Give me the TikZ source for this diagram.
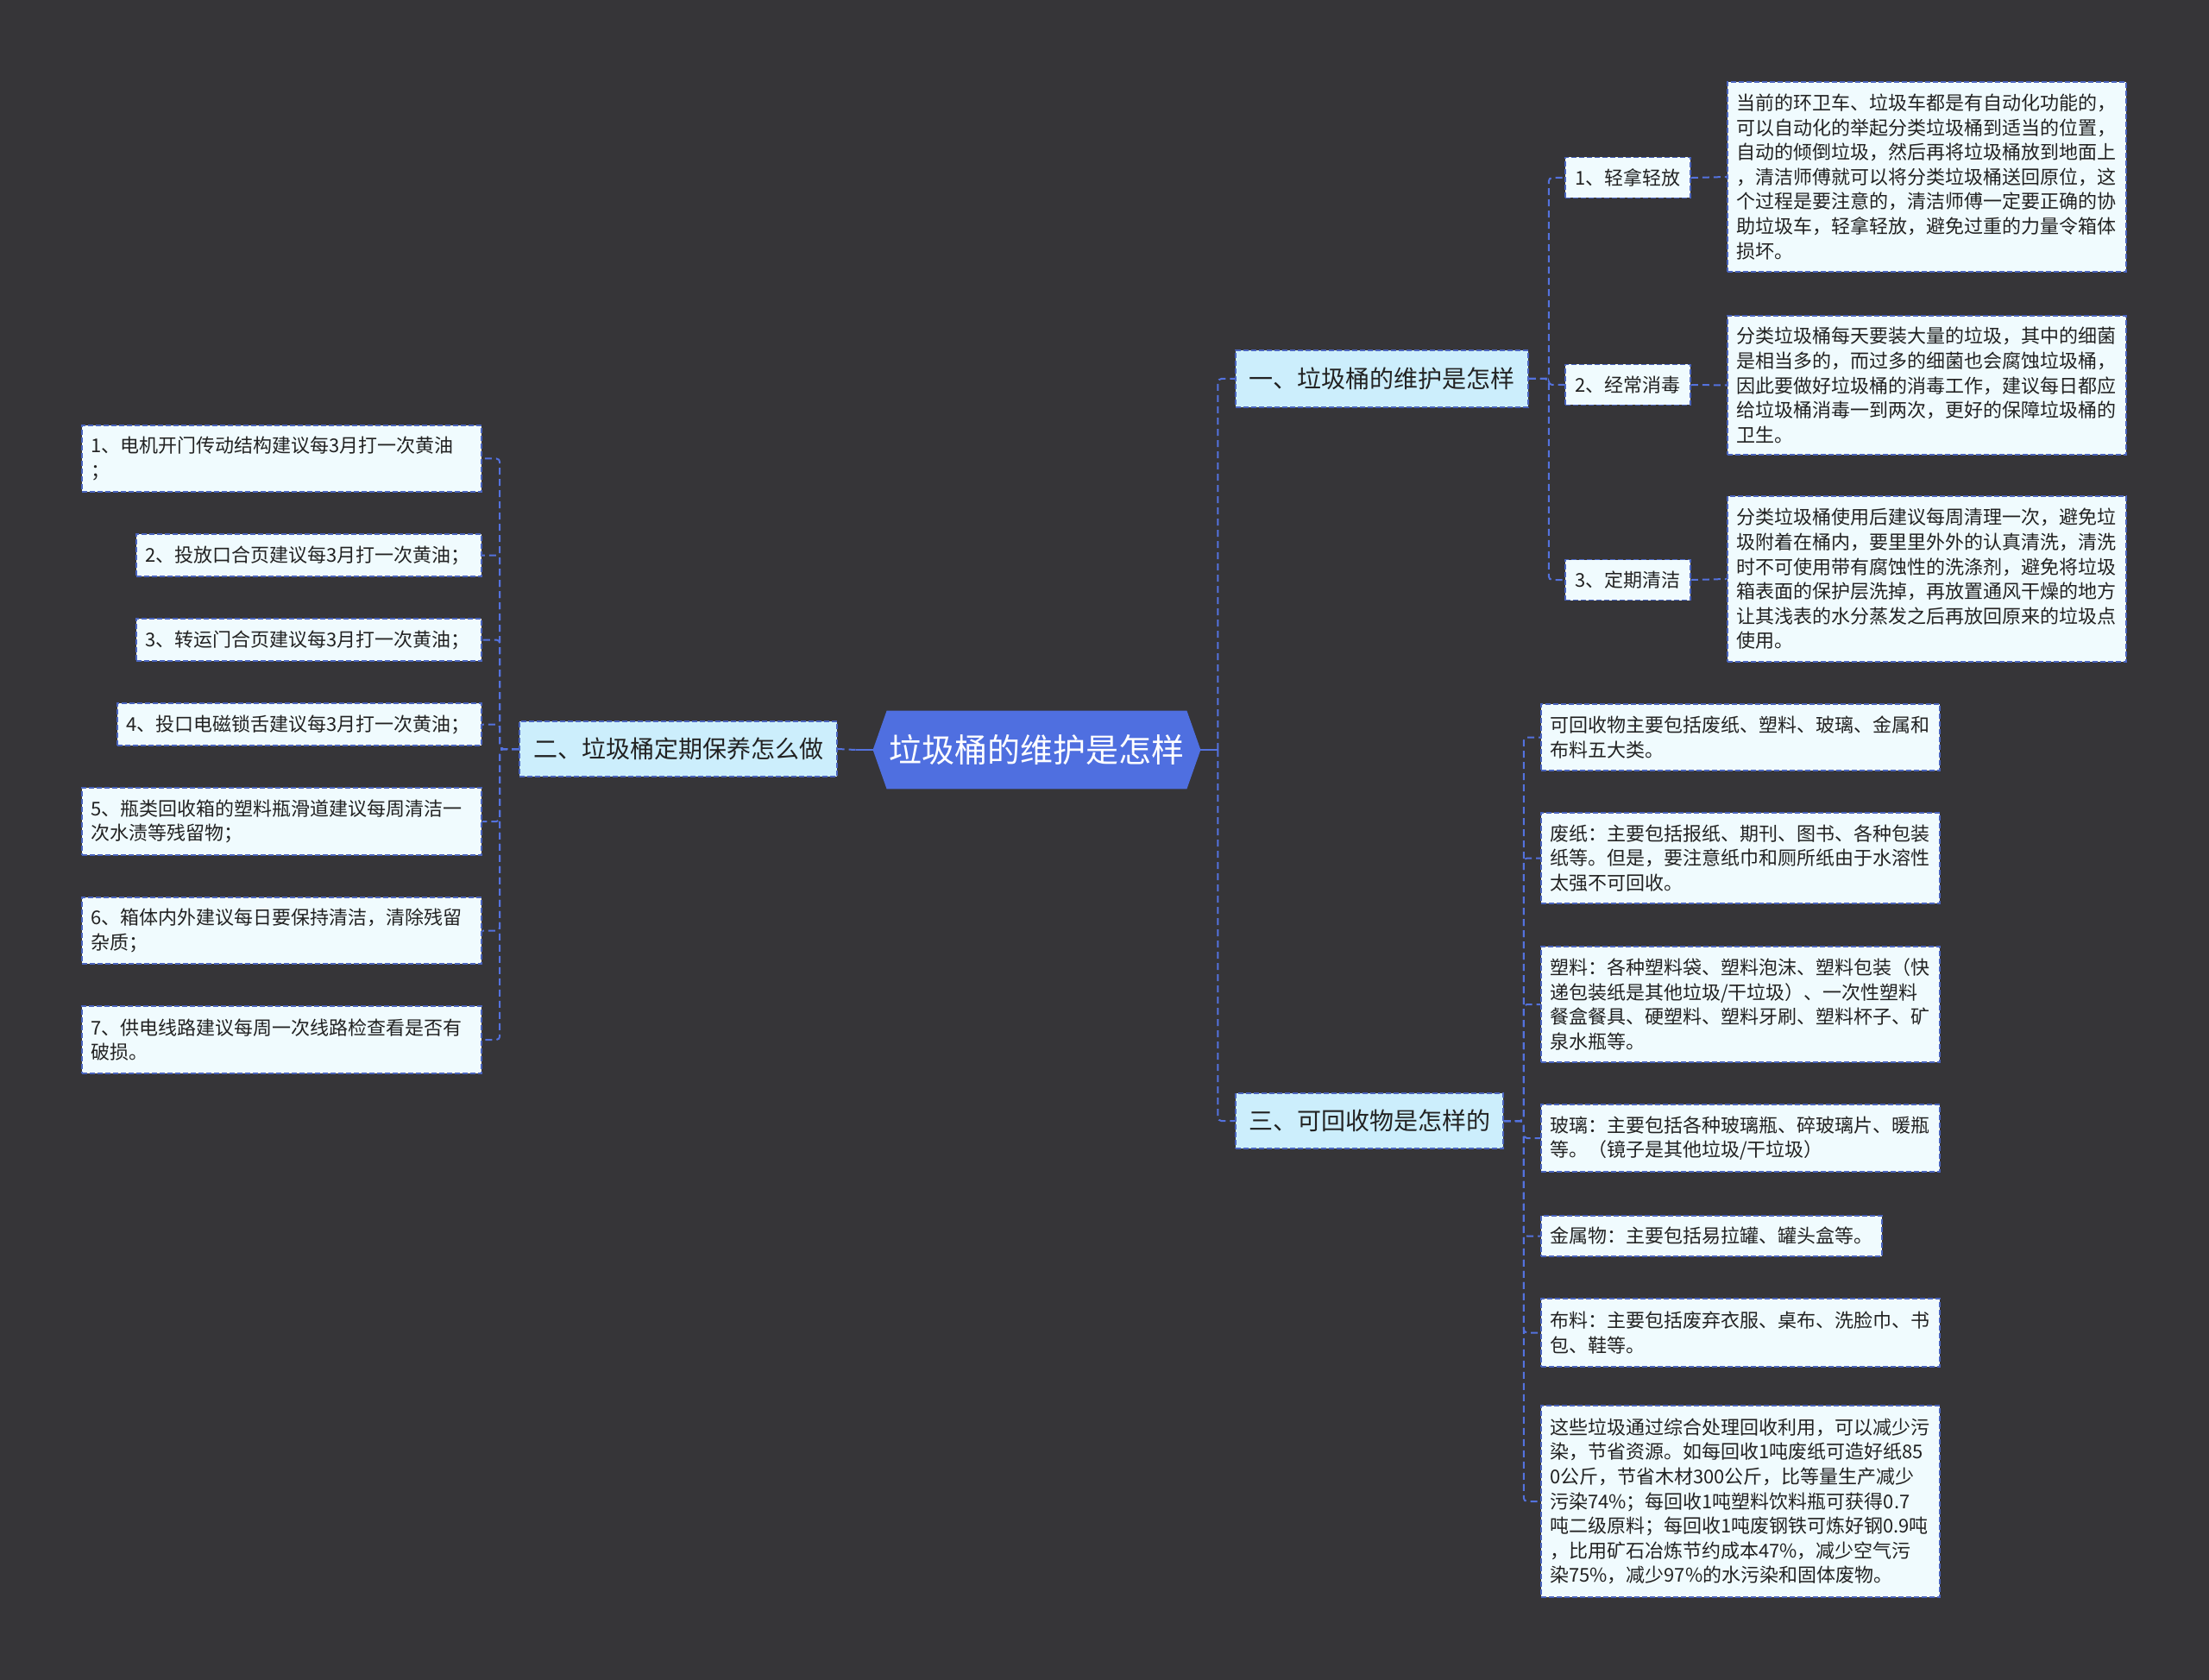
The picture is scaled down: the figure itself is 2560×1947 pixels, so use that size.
\documentclass[tikz,border=0pt]{standalone}
\usepackage{fontspec}
\setmainfont{Noto Sans CJK SC}
\usetikzlibrary{backgrounds}
\definecolor{bgc}{RGB}{54,53,56}
\definecolor{cfill}{RGB}{79,111,224}
\definecolor{l1fill}{RGB}{204,238,252}
\definecolor{lffill}{RGB}{240,251,254}
\definecolor{bd}{RGB}{74,100,190}
\definecolor{cl}{RGB}{84,114,222}
\definecolor{txt}{RGB}{34,34,34}
\tikzset{
  boxline/.style={draw=bd, line width=0.8pt, dash pattern=on 3pt off 1.5pt},
  lvlone/.style={boxline, fill=l1fill, text=txt, font=\fontsize{14}{17}\selectfont, inner sep=0pt, align=center},
  subbox/.style={boxline, fill=lffill, text=txt, font=\fontsize{11}{14}\selectfont, inner sep=0pt, align=center},
  leaf/.style={boxline, fill=lffill, text=txt, font=\fontsize{11}{14.3}\selectfont, align=left, inner xsep=5pt, inner ysep=0pt},
  conn/.style={draw=cl, line width=1pt, dash pattern=on 4pt off 2.5pt, rounded corners=2pt},
  solidc/.style={draw=cl, line width=1.2pt},
}
\begin{document}
\begin{tikzpicture}[x=0.5pt,y=-0.5pt]
\useasboundingbox (0,0) rectangle (2560,1947);
% central
\node[minimum width=189.5pt, minimum height=45pt, inner sep=0pt, text=white, font=\fontsize{19}{22}\selectfont] (c) at (1201.5,869) {垃圾桶的维护是怎样};
\begin{scope}[on background layer]
  \fill[bgc] (0,0) rectangle (2560,1947);
  \fill[cfill] (c.west) -- ([xshift=8pt]c.north west) -- ([xshift=-8pt]c.north east) -- (c.east) -- ([xshift=-8pt]c.south east) -- ([xshift=8pt]c.south west) -- cycle;
\end{scope}
% level one
\node[lvlone, minimum width=169.5pt, minimum height=33pt] (n1) at (1601.5,439) {一、垃圾桶的维护是怎样};
\node[lvlone, minimum width=184pt, minimum height=32pt] (n2) at (786,868) {二、垃圾桶定期保养怎么做};
\node[lvlone, minimum width=155pt, minimum height=32pt] (n3) at (1587,1299) {三、可回收物是怎样的};
% left leaves
\node[leaf, text width=221.5pt, minimum height=38.5pt] (L1) at (326.5,531.5) {1、电机开门传动结构建议每3月打一次黄油\\；};
\node[leaf, text width=190pt, minimum height=24.5pt] (L2) at (358,643.5) {2、投放口合页建议每3月打一次黄油；};
\node[leaf, text width=190pt, minimum height=24.5pt] (L3) at (358,741.5) {3、转运门合页建议每3月打一次黄油；};
\node[leaf, text width=201pt, minimum height=24.5pt] (L4) at (347,839.5) {4、投口电磁锁舌建议每3月打一次黄油；};
\node[leaf, text width=221.5pt, minimum height=39pt] (L5) at (326.5,952) {5、瓶类回收箱的塑料瓶滑道建议每周清洁一\\次水渍等残留物；};
\node[leaf, text width=221.5pt, minimum height=38.5pt] (L6) at (326.5,1078.5) {6、箱体内外建议每日要保持清洁，清除残留\\杂质；};
\node[leaf, text width=221.5pt, minimum height=39pt] (L7) at (326.5,1205) {7、供电线路建议每周一次线路检查看是否有\\破损。};
% top right
\node[subbox, minimum width=72.5pt, minimum height=23.5pt] (k1) at (1886.5,206) {1、轻拿轻放};
\node[subbox, minimum width=72.5pt, minimum height=23.5pt] (k2) at (1886.5,446) {2、经常消毒};
\node[subbox, minimum width=72.5pt, minimum height=23.5pt] (k3) at (1886.5,672) {3、定期清洁};
\node[leaf, text width=221pt, minimum height=110pt] (t1) at (2233,205) {当前的环卫车、垃圾车都是有自动化功能的，\\可以自动化的举起分类垃圾桶到适当的位置，\\自动的倾倒垃圾，然后再将垃圾桶放到地面上\\，清洁师傅就可以将分类垃圾桶送回原位，这\\个过程是要注意的，清洁师傅一定要正确的协\\助垃圾车，轻拿轻放，避免过重的力量令箱体\\损坏。};
\node[leaf, text width=221pt, minimum height=80.5pt] (t2) at (2233,446.5) {分类垃圾桶每天要装大量的垃圾，其中的细菌\\是相当多的，而过多的细菌也会腐蚀垃圾桶，\\因此要做好垃圾桶的消毒工作，建议每日都应\\给垃圾桶消毒一到两次，更好的保障垃圾桶的\\卫生。};
\node[leaf, text width=221pt, minimum height=96pt] (t3) at (2233,671) {分类垃圾桶使用后建议每周清理一次，避免垃\\圾附着在桶内，要里里外外的认真清洗，清洗\\时不可使用带有腐蚀性的洗涤剂，避免将垃圾\\箱表面的保护层洗掉，再放置通风干燥的地方\\让其浅表的水分蒸发之后再放回原来的垃圾点\\使用。};
% bottom right
\node[leaf, text width=221pt, minimum height=38.5pt] (r1) at (2017,854.5) {可回收物主要包括废纸、塑料、玻璃、金属和\\布料五大类。};
\node[leaf, text width=221pt, minimum height=52.5pt] (r2) at (2017,994.5) {废纸：主要包括报纸、期刊、图书、各种包装\\纸等。但是，要注意纸巾和厕所纸由于水溶性\\太强不可回收。};
\node[leaf, text width=221pt, minimum height=67pt] (r3) at (2017,1164) {塑料：各种塑料袋、塑料泡沫、塑料包装（快\\递包装纸是其他垃圾/干垃圾）、一次性塑料\\餐盒餐具、硬塑料、塑料牙刷、塑料杯子、矿\\泉水瓶等。};
\node[leaf, text width=221pt, minimum height=39pt] (r4) at (2017,1319) {玻璃：主要包括各种玻璃瓶、碎玻璃片、暖瓶\\等。（镜子是其他垃圾/干垃圾）};
\node[leaf, text width=187.5pt, minimum height=23.5pt] (r5) at (1983.5,1432.5) {金属物：主要包括易拉罐、罐头盒等。};
\node[leaf, text width=221pt, minimum height=39.5pt] (r6) at (2017,1544.5) {布料：主要包括废弃衣服、桌布、洗脸巾、书\\包、鞋等。};
\node[leaf, text width=221pt, minimum height=111pt] (r7) at (2017,1740) {这些垃圾通过综合处理回收利用，可以减少污\\染，节省资源。如每回收1吨废纸可造好纸85\\0公斤，节省木材300公斤，比等量生产减少\\污染74\%；每回收1吨塑料饮料瓶可获得0.7\\吨二级原料；每回收1吨废钢铁可炼好钢0.9吨\\，比用矿石冶炼节约成本47\%，减少空气污\\染75\%，减少97\%的水污染和固体废物。};
% connectors
\draw[solidc] (c.west) -- ++(-20,0) coordinate (ls0);
\draw[conn] (ls0) -- (n2.east);
\foreach \k in {1,...,7}{\draw[conn] (n2.west) -- ++(-22,0) |- (L\k.east);}
\draw[solidc] (c.east) -- ++(20,0) coordinate (rs0);
\draw[conn] (rs0) |- (n1.west);
\draw[conn] (rs0) |- (n3.west);
\foreach \k in {1,2,3}{\draw[conn] (n1.east) -- ++(23,0) |- (k\k.west); \draw[conn] (k\k.east) -- (t\k.west);}
\foreach \k in {1,...,7}{\draw[conn] (n3.east) -- ++(23,0) |- (r\k.west);}
\end{tikzpicture}
\end{document}
